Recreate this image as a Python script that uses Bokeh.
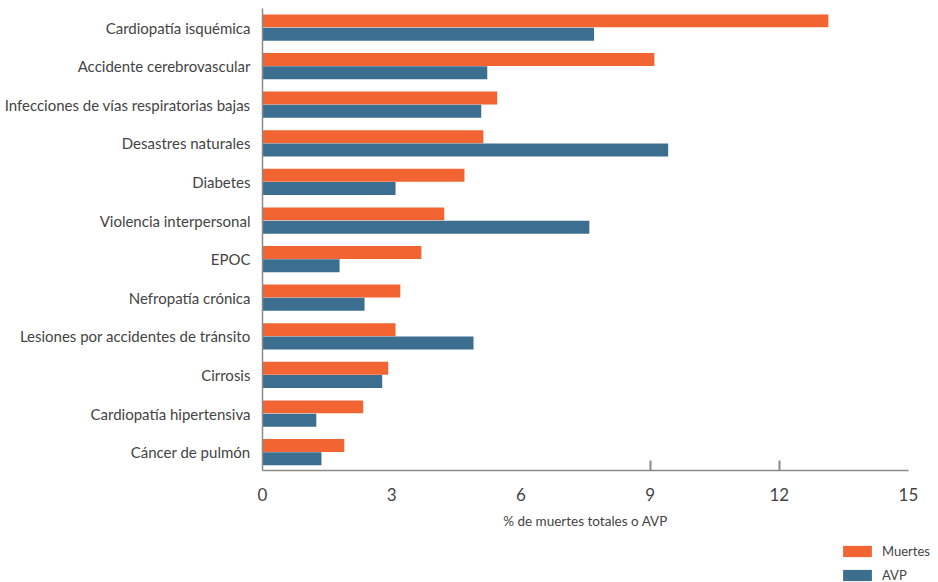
from bokeh.plotting import figure
from bokeh.models import ColumnDataSource, Range1d, FixedTicker, Legend, LegendItem
from bokeh.transform import dodge
from bokeh.embed import file_html
from bokeh.resources import INLINE

# Principales causas: porcentaje de muertes totales y de AVP
causas = [
    "Cardiopatía isquémica",
    "Accidente cerebrovascular",
    "Infecciones de vías respiratorias bajas",
    "Desastres naturales",
    "Diabetes",
    "Violencia interpersonal",
    "EPOC",
    "Nefropatía crónica",
    "Lesiones por accidentes de tránsito",
    "Cirrosis",
    "Cardiopatía hipertensiva",
    "Cáncer de pulmón",
]
muertes = [13.14, 9.10, 5.45, 5.13, 4.69, 4.22, 3.69, 3.20, 3.09, 2.92, 2.34, 1.90]
avp = [7.70, 5.22, 5.08, 9.42, 3.09, 7.59, 1.79, 2.37, 4.90, 2.78, 1.25, 1.37]
x_ticks = [0, 3, 6, 9, 12, 15]

ORANGE = "#F26532"
BLUE = "#3C6E8F"
TEXT = "#444444"
AXIS = "#8a8a8a"
FONT = "Lato"

source = ColumnDataSource(dict(
    pos=list(range(len(causas))),
    causa=causas,
    muertes=muertes,
    avp=avp,
))

# El área de dibujo ocupa todo el lienzo; los ejes se fijan en x=0 y bajo
# la última categoría, así la leyenda inferior queda dentro del marco.
X_MIN, X_MAX = 0, 15
Y_TOP, Y_AXIS = -0.492, 11.477

p = figure(
    width=938, height=582,
    output_backend="svg", toolbar_location=None,
    x_range=Range1d(-6.083, 15.697),
    y_range=Range1d(14.378, -0.6995),
    min_border=0,
    outline_line_color=None,
)
p.xgrid.visible = False
p.ygrid.visible = False

bar_h = 0.336
r_m = p.hbar(y=dodge("pos", -0.172), left=0, right="muertes", height=bar_h,
             source=source, fill_color=ORANGE, line_color=None)
r_a = p.hbar(y=dodge("pos", 0.172), left=0, right="avp", height=bar_h,
             source=source, fill_color=BLUE, line_color=None)

# Eje de categorías
yax = p.yaxis[0]
yax.fixed_location = X_MIN
yax.bounds = (Y_TOP, Y_AXIS)
yax.ticker = FixedTicker(ticks=list(range(len(causas))))
yax.major_label_overrides = {i: c for i, c in enumerate(causas)}
yax.major_tick_line_color = None
yax.minor_tick_line_color = None
yax.axis_line_color = AXIS
yax.axis_line_width = 1.5
yax.major_label_standoff = 6
yax.major_label_text_font = FONT
yax.major_label_text_font_size = "15px"
yax.major_label_text_color = TEXT

# Eje de valores
xax = p.xaxis[0]
xax.fixed_location = Y_AXIS
xax.bounds = (X_MIN, X_MAX)
xax.ticker = FixedTicker(ticks=x_ticks, minor_ticks=[9, 12])
xax.major_tick_line_color = None
xax.minor_tick_line_color = AXIS
xax.minor_tick_line_width = 2
xax.minor_tick_in = 10
xax.minor_tick_out = 0
xax.axis_line_color = AXIS
xax.axis_line_width = 1.5
xax.major_label_standoff = 11
xax.major_label_text_font = FONT
xax.major_label_text_font_size = "17px"
xax.major_label_text_color = TEXT
xax.axis_label = "% de muertes totales o AVP"
xax.axis_label_text_font = FONT
xax.axis_label_text_font_size = "13.5px"
xax.axis_label_text_font_style = "normal"
xax.axis_label_text_color = TEXT
xax.axis_label_standoff = 9

legend = Legend(
    items=[LegendItem(label="Muertes", renderers=[r_m]),
           LegendItem(label="AVP", renderers=[r_a])],
    location=(839, -1),
    orientation="vertical",
    glyph_width=36, glyph_height=14,
    label_height=14, label_standoff=7, spacing=8,
    padding=0, margin=0,
    border_line_color=None, background_fill_alpha=0,
    label_text_font=FONT, label_text_font_size="13px",
    label_text_color=TEXT,
)
p.add_layout(legend, "center")

open("out.html", "w").write(file_html(p, INLINE))
